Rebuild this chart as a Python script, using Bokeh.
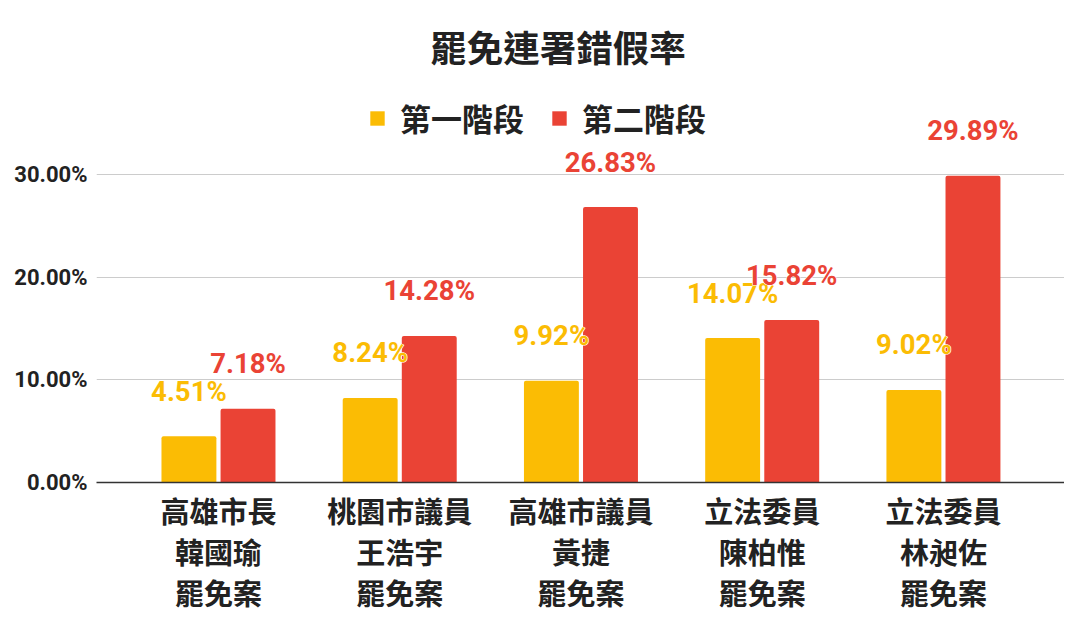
from bokeh.plotting import figure
from bokeh.models import (ColumnDataSource, FixedTicker, Range1d, Legend, LegendItem, Label)
from bokeh.core.properties import value
from bokeh.embed import file_html
from bokeh.resources import INLINE

# ---- data ----
categories = ["高雄市長\n韓國瑜\n罷免案", "桃園市議員\n王浩宇\n罷免案", "高雄市議員\n黃捷\n罷免案",
              "立法委員\n陳柏惟\n罷免案", "立法委員\n林昶佐\n罷免案"]
stage1 = [4.51, 8.24, 9.92, 14.07, 9.02]
stage2 = [7.18, 14.28, 26.83, 15.82, 29.89]
series_names = ["第一階段", "第二階段"]
y_ticks = [0, 10, 20, 30]
y_tick_labels = ["0.00%", "10.00%", "20.00%", "30.00%"]
title_text = "罷免連署錯假率"

YELLOW = "#FBBC04"
RED = "#EA4335"
CJK = "Noto Sans CJK TC"

W, H = 1064, 621
p = figure(width=W, height=H, output_backend="svg", toolbar_location=None,
           x_range=Range1d(-0.673, 4.668), y_range=Range1d(0, 46.95))
p.min_border_left = 96
p.min_border_right = 0
p.min_border_top = 0
p.min_border_bottom = 139
p.outline_line_color = None
p.background_fill_color = "white"
p.border_fill_color = "white"

xs = list(range(len(categories)))
off = 0.163
bw = 0.303
src1 = ColumnDataSource(dict(x=[i - off for i in xs], top=stage1,
                             lab=[f"{v:.2f}%" for v in stage1]))
src2 = ColumnDataSource(dict(x=[i + off for i in xs], top=stage2,
                             lab=[f"{v:.2f}%" for v in stage2]))

r1 = p.vbar(x="x", top="top", width=bw, source=src1, fill_color=YELLOW, line_color=None,
            border_radius=[2, 2, 0, 0])
r2 = p.vbar(x="x", top="top", width=bw, source=src2, fill_color=RED, line_color=None,
            border_radius=[2, 2, 0, 0])

for src, col in ((src1, YELLOW), (src2, RED)):
    common = dict(x="x", y="top", text="lab", source=src, text_align="center",
                  text_baseline="alphabetic", y_offset=-45, text_font=value("Roboto"),
                  text_font_style="bold", text_font_size="27.5px")
    # white halo underneath
    p.text(text_color="white", text_outline_color="white", **common)
    p.text(text_color=col, **common)

# axes
p.yaxis.ticker = FixedTicker(ticks=y_ticks)
p.yaxis.major_label_overrides = {t: l for t, l in zip(y_ticks, y_tick_labels)}
p.yaxis.axis_line_color = None
p.yaxis.major_tick_line_color = None
p.yaxis.minor_tick_line_color = None
p.yaxis.major_label_text_font = "Roboto"
p.yaxis.major_label_text_font_style = "bold"
p.yaxis.major_label_text_font_size = "22px"
p.yaxis.major_label_text_color = "#222222"
p.yaxis.major_label_standoff = 3

p.xaxis.ticker = FixedTicker(ticks=xs)
p.xaxis.major_label_overrides = {i: c for i, c in zip(xs, categories)}
p.xaxis.axis_line_color = "#333333"
p.xaxis.axis_line_width = 1.5
p.xaxis.major_tick_line_color = None
p.xaxis.minor_tick_line_color = None
p.xaxis.major_label_text_font = CJK
p.xaxis.major_label_text_font_style = "bold"
p.xaxis.major_label_text_font_size = "29px"
p.xaxis.major_label_text_color = "#222222"
p.xaxis.major_label_text_line_height = 0.98
p.xaxis.major_label_standoff = 0

p.xgrid.grid_line_color = None
p.ygrid.ticker = FixedTicker(ticks=y_ticks)
p.ygrid.grid_line_color = "#cccccc"
p.ygrid.grid_line_width = 1

# title
p.add_layout(Label(x=1.873, y=42.47, text=title_text, text_align="center",
                   text_baseline="middle", text_font=CJK, text_font_style="bold",
                   text_font_size="36.5px", text_color="#222222"))

# legend
legend = Legend(items=[LegendItem(label=series_names[0], renderers=[r1]),
                       LegendItem(label=series_names[1], renderers=[r2])],
                orientation="horizontal", location=(272, 342),
                glyph_width=18, glyph_height=18, label_standoff=14, spacing=26,
                padding=0, margin=0, border_line_color=None, background_fill_alpha=0,
                label_text_font=CJK, label_text_font_style="bold",
                label_text_font_size="31px", label_text_color="#222222")
p.add_layout(legend, "center")

open("out.html", "w").write(file_html(p, INLINE))
